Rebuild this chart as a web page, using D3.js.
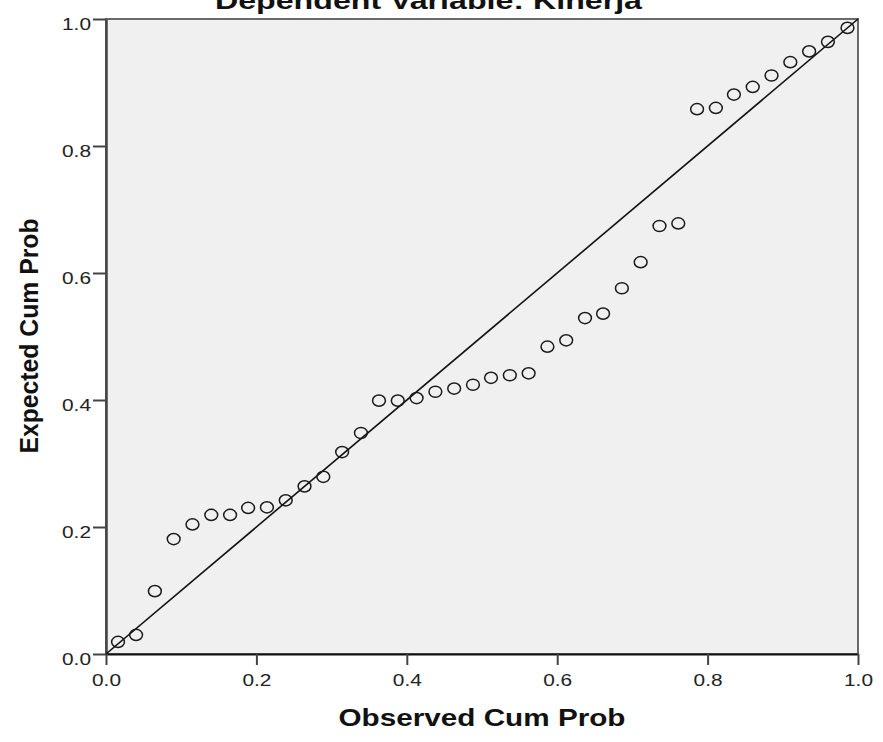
<!DOCTYPE html>
<html>
<head>
<meta charset="utf-8">
<script src="https://cdn.jsdelivr.net/npm/d3@7"></script>
<style>
  body { margin: 0; background: #fff; }
  svg { display: block; font-family: "Liberation Sans", Arial, sans-serif; }
</style>
</head>
<body>
<svg width="883" height="742"></svg>
<script>
const svg = d3.select("svg");

// DATA
const titleText = "Dependent Variable: Kinerja";
const xTitle = "Observed Cum Prob";
const yTitle = "Expected Cum Prob";
const xTicks = [0.0, 0.2, 0.4, 0.6, 0.8, 1.0];
const yTicks = [0.0, 0.2, 0.4, 0.6, 0.8, 1.0];
const observed = [
  0.016, 0.040, 0.065, 0.090, 0.115, 0.140, 0.165, 0.189, 0.214, 0.239,
  0.264, 0.289, 0.314, 0.339, 0.363, 0.388, 0.413, 0.438, 0.463, 0.488,
  0.512, 0.537, 0.562, 0.587, 0.612, 0.637, 0.661, 0.686, 0.711, 0.736,
  0.761, 0.786, 0.811, 0.835, 0.860, 0.885, 0.910, 0.935, 0.960, 0.986
];
const expected = [
  0.019, 0.030, 0.099, 0.181, 0.204, 0.219, 0.219, 0.230, 0.231, 0.242,
  0.264, 0.279, 0.318, 0.348, 0.399, 0.399, 0.403, 0.413, 0.418, 0.424,
  0.435, 0.439, 0.442, 0.484, 0.494, 0.529, 0.536, 0.576, 0.617, 0.674,
  0.678, 0.858, 0.860, 0.881, 0.893, 0.911, 0.932, 0.949, 0.964, 0.986
];
const refLine = [0, 1];

// LAYOUT
const margin = { top: 19, left: 106, right: 25, bottom: 88 };
const width = 883, height = 742;
const innerWidth = width - margin.left - margin.right;
const innerHeight = height - margin.top - margin.bottom;
const stretch = 1.2; // the source image is a little wider than tall

const xScale = d3.scaleLinear().domain([0, 1]).range([0, innerWidth]);
const yScale = d3.scaleLinear().domain([0, 1]).range([innerHeight, 0]);

// title, cut off at the top as in the source
svg.append("text")
  .attr("x", 428.5)
  .attr("y", 9)
  .attr("text-anchor", "middle")
  .attr("font-size", "23px")
  .attr("font-weight", "bold")
  .attr("fill", "#111")
  .attr("textLength", 427)
  .attr("lengthAdjust", "spacingAndGlyphs")
  .text(titleText);

const g = svg.append("g")
  .attr("transform", `translate(${margin.left}, ${margin.top})`);

// plot background + frame
g.append("rect")
  .attr("width", innerWidth)
  .attr("height", innerHeight)
  .attr("fill", "#f0f0f0")
  .attr("stroke", "#6a6a6a")
  .attr("stroke-width", 2);

// axes
const fmt = d3.format(".1f");
const xAxis = d3.axisBottom(xScale)
  .tickValues(xTicks)
  .tickFormat(fmt)
  .tickSizeInner(11)
  .tickSizeOuter(0)
  .tickPadding(5);
const yAxis = d3.axisLeft(yScale)
  .tickValues(yTicks)
  .tickFormat(fmt)
  .tickSizeInner(13)
  .tickSizeOuter(0)
  .tickPadding(2);

const xg = g.append("g")
  .attr("transform", `translate(0, ${innerHeight})`)
  .call(xAxis);
const yg = g.append("g").call(yAxis);

[xg, yg].forEach(ax => {
  ax.attr("font-size", 17).attr("font-family", null);
  ax.selectAll("text")
    .style("font-size", "17px")
    .attr("fill", "#222")
    .attr("textLength", 29)
    .attr("lengthAdjust", "spacingAndGlyphs");
  ax.selectAll(".tick line").attr("stroke", "#444").attr("stroke-width", 2);
});
xg.selectAll("text").attr("dy", "0.95em");
yg.selectAll("text").attr("dy", "0.6em");
xg.select(".domain").attr("stroke", "#111").attr("stroke-width", 2);
yg.select(".domain").attr("stroke", "#444").attr("stroke-width", 2.5);

// reference diagonal
g.append("line")
  .attr("x1", xScale(refLine[0]))
  .attr("y1", yScale(refLine[0]))
  .attr("x2", xScale(refLine[1]))
  .attr("y2", yScale(refLine[1]))
  .attr("stroke", "#111")
  .attr("stroke-width", 1.6);

// points
const points = observed.map((x, i) => ({ x, y: expected[i] }));
g.selectAll("ellipse.pt")
  .data(points)
  .enter()
  .append("ellipse")
  .attr("class", "pt")
  .attr("cx", d => xScale(d.x))
  .attr("cy", d => yScale(d.y))
  .attr("rx", 6.4)
  .attr("ry", 5.6)
  .attr("fill", "none")
  .attr("stroke", "#1a1a1a")
  .attr("stroke-width", 1.5);

// axis titles
svg.append("text")
  .attr("x", margin.left + innerWidth / 2)
  .attr("y", 726)
  .attr("text-anchor", "middle")
  .attr("font-size", "23px")
  .attr("font-weight", "bold")
  .attr("fill", "#111")
  .attr("textLength", 287)
  .attr("lengthAdjust", "spacingAndGlyphs")
  .text(xTitle);

svg.append("text")
  .attr("transform", `translate(38, 336) scale(${stretch}, 1) rotate(-90)`)
  .attr("text-anchor", "middle")
  .attr("font-size", "22px")
  .attr("font-weight", "bold")
  .attr("fill", "#111")
  .attr("textLength", 235)
  .attr("lengthAdjust", "spacingAndGlyphs")
  .text(yTitle);
</script>
</body>
</html>
